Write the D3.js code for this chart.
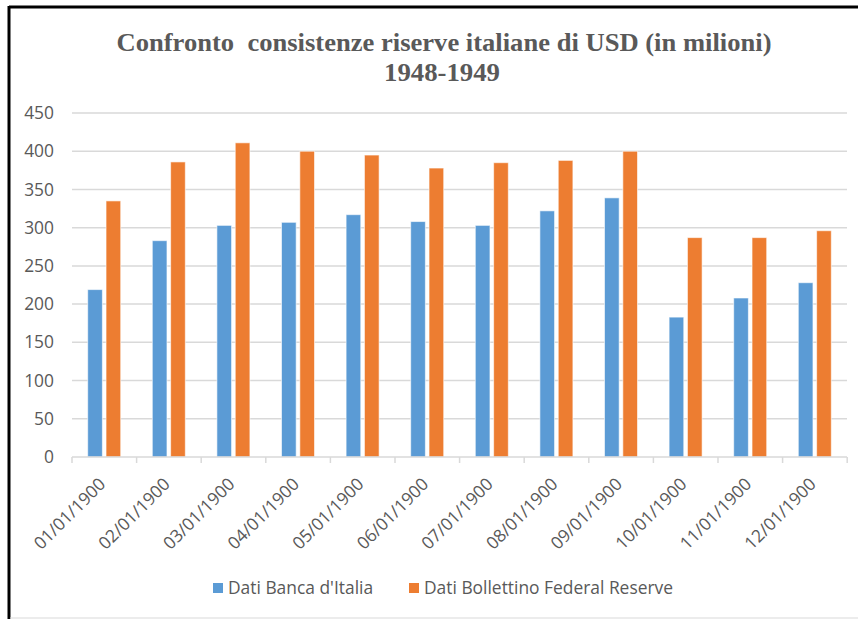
<!DOCTYPE html>
<html>
<head>
<meta charset="utf-8">
<script src="https://cdn.jsdelivr.net/npm/d3@7"></script>
<style>
  body { margin: 0; background: #fff; }
  svg { display: block; }
  .title text { white-space: pre; }
</style>
</head>
<body>
<svg id="chart" width="858" height="619"></svg>
<script>
// data
const categories = ["01/01/1900", "02/01/1900", "03/01/1900", "04/01/1900", "05/01/1900", "06/01/1900",
                    "07/01/1900", "08/01/1900", "09/01/1900", "10/01/1900", "11/01/1900", "12/01/1900"];
const bancaItalia = [219, 283, 303, 307, 317, 308, 303, 322, 339, 183, 208, 228];
const fedReserve = [335, 386, 411, 400, 395, 378, 385, 388, 400, 287, 287, 296];
const seriesNames = ["Dati Banca d'Italia", "Dati Bollettino Federal Reserve"];
const seriesColors = ["#5b9bd5", "#ed7d31"];
const yTicks = [0, 50, 100, 150, 200, 250, 300, 350, 400, 450];

const svg = d3.select("#chart");
const width = 858, height = 619;
const margin = { top: 113, right: 11, bottom: 162, left: 72 };
const textGray = "#595959";
const labelFont = "'Open Sans', 'Liberation Sans', sans-serif";
const labelSize = 17.4;

// frame
svg.append("rect").attr("width", width).attr("height", height).attr("fill", "#fff");
svg.append("line").attr("x1", 9).attr("x2", width).attr("y1", 7).attr("y2", 7)
    .attr("stroke", "#000").attr("stroke-width", 3);
svg.append("line").attr("x1", 9).attr("x2", 9).attr("y1", 6).attr("y2", height)
    .attr("stroke", "#000").attr("stroke-width", 3);
svg.append("line").attr("x1", 10).attr("x2", width).attr("y1", 618).attr("y2", 618)
    .attr("stroke", "#d9d9d9").attr("stroke-width", 1);

// title
const title = svg.append("g")
    .attr("class", "title")
    .attr("fill", textGray)
    .attr("font-family", "'Liberation Serif', 'Times New Roman', serif")
    .attr("font-weight", "bold")
    .attr("font-size", 25)
    .attr("text-anchor", "middle");
title.append("text").attr("x", 444).attr("y", 51)
    .attr("textLength", 655).attr("lengthAdjust", "spacingAndGlyphs")
    .text("Confronto  consistenze riserve italiane di USD (in milioni)");
title.append("text").attr("x", 442).attr("y", 81)
    .attr("textLength", 116).attr("lengthAdjust", "spacingAndGlyphs")
    .text("1948-1949");

const x0 = d3.scaleBand()
    .domain(categories)
    .range([margin.left, width - margin.right])
    .paddingInner(0.489)
    .paddingOuter(0.243);

const x1 = d3.scaleBand()
    .domain(d3.range(2))
    .range([0, x0.bandwidth()])
    .paddingInner(0.2)
    .paddingOuter(0);

const y = d3.scaleLinear()
    .domain([0, 450])
    .range([height - margin.bottom, margin.top]);

// gridlines
svg.append("g")
    .selectAll("line")
    .data(yTicks.slice(1))
    .join("line")
    .attr("x1", margin.left)
    .attr("x2", width - margin.right)
    .attr("y1", d => y(d))
    .attr("y2", d => y(d))
    .attr("stroke", "#d9d9d9")
    .attr("stroke-width", 1.5);

// y axis labels
const yAxis = svg.append("g")
    .attr("transform", `translate(${margin.left},0)`)
    .call(d3.axisLeft(y).tickValues(yTicks).tickSize(0).tickPadding(18));
yAxis.select(".domain").remove();
yAxis.selectAll("text")
    .attr("fill", textGray)
    .attr("font-family", labelFont)
    .attr("font-size", labelSize);

// bars
const groups = svg.append("g")
    .selectAll("g")
    .data(categories.map((c, i) => ({ cat: c, vals: [bancaItalia[i], fedReserve[i]] })))
    .join("g")
    .attr("transform", d => `translate(${x0(d.cat)},0)`);

groups.selectAll("rect")
    .data(d => d.vals.map((v, k) => ({ v, k })))
    .join("rect")
    .attr("x", d => x1(d.k))
    .attr("y", d => y(d.v))
    .attr("width", x1.bandwidth())
    .attr("height", d => y(0) - y(d.v))
    .attr("fill", d => seriesColors[d.k])
    .attr("stroke", "#fff")
    .attr("stroke-opacity", 0.6)
    .attr("stroke-width", 1);

// x axis with tick marks between categories
const xAxisG = svg.append("g");
const step = x0.step();
const edges = d3.range(categories.length + 1).map(i => margin.left + i * step);
xAxisG.append("line")
    .attr("x1", margin.left).attr("x2", width - margin.right)
    .attr("y1", y(0)).attr("y2", y(0))
    .attr("stroke", "#d9d9d9").attr("stroke-width", 1.5);
xAxisG.selectAll(".tk")
    .data(edges)
    .join("line")
    .attr("class", "tk")
    .attr("x1", d => d).attr("x2", d => d)
    .attr("y1", y(0)).attr("y2", y(0) + 6)
    .attr("stroke", "#d9d9d9").attr("stroke-width", 1.5);

xAxisG.selectAll(".lbl")
    .data(categories)
    .join("text")
    .attr("class", "lbl")
    .attr("transform", d => `translate(${x0(d) + x0.bandwidth() / 2 - 2},${y(0) + 24}) rotate(-45)`)
    .attr("text-anchor", "end")
    .attr("dy", "0.35em")
    .attr("fill", textGray)
    .attr("font-family", labelFont)
    .attr("font-size", labelSize)
    .text(d => d);

// legend
const legendPos = [213, 409];
const legend = svg.append("g")
    .selectAll("g")
    .data(seriesNames)
    .join("g")
    .attr("transform", (d, i) => `translate(${legendPos[i]},583)`);
legend.append("rect")
    .attr("width", 10).attr("height", 10)
    .attr("fill", (d, i) => seriesColors[i]);
legend.append("text")
    .attr("x", 15).attr("y", 5)
    .attr("dy", "0.35em")
    .attr("fill", textGray)
    .attr("font-family", labelFont)
    .attr("font-size", labelSize)
    .text(d => d);
</script>
</body>
</html>
